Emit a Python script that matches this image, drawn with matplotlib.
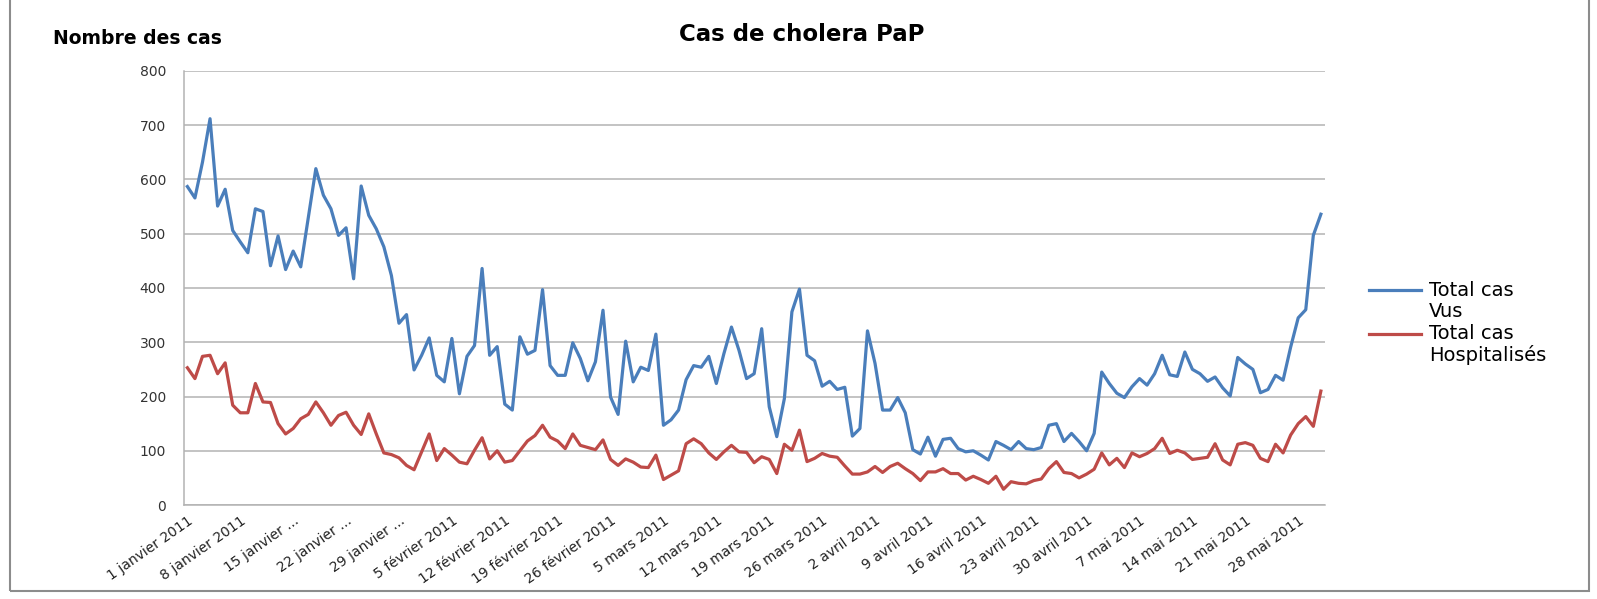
import matplotlib
matplotlib.use("Agg")
import matplotlib.pyplot as plt
from matplotlib.lines import Line2D
from matplotlib.patches import Rectangle
import numpy as np
import pandas as pd

# the source text is wide, DejaVu is the widest family we have
plt.rcParams["font.family"] = ["DejaVu Sans"]

# daily counts, 1 janvier 2011 -> 31 mai 2011
dates = pd.date_range("2011-01-01", "2011-05-31", freq="D")

total_vus = [
    587, 566, 632, 712, 551, 582, 506, 485, 465, 546, 541, 441, 496, 434, 468, 439,
    530, 620, 571, 546, 497, 511, 417, 588, 534, 509, 476, 423, 335, 351, 249, 276,
    308, 239, 227, 307, 205, 274, 294, 436, 276, 292, 186, 175, 310, 278, 285, 397,
    257, 239, 239, 299, 270, 229, 264, 359, 199, 167, 302, 227, 254, 248, 315, 147,
    157, 175, 231, 257, 254, 274, 224, 279, 328, 285, 233, 242, 325, 181, 126, 196,
    356, 398, 276, 266, 219, 228, 213, 217, 127, 141, 321, 261, 175, 175, 198, 170,
    102, 94, 125, 90, 121, 123, 104, 98, 100, 92, 83, 117, 110, 102, 117, 104,
    102, 106, 147, 150, 117, 132, 117, 100, 132, 245, 224, 206, 198, 218, 233, 221,
    242, 276, 240, 237, 282, 250, 242, 228, 236, 216, 201, 272, 260, 250, 207, 213,
    239, 230, 291, 345, 360, 497, 536,
]

total_hosp = [
    253, 233, 274, 276, 242, 262, 184, 170, 170, 224, 190, 189, 150, 131, 141, 159,
    167, 190, 170, 147, 165, 171, 147, 130, 168, 131, 96, 93, 87, 73, 65, 98,
    131, 82, 104, 92, 79, 76, 101, 124, 85, 100, 79, 82, 100, 118, 128, 147,
    125, 118, 104, 131, 110, 106, 102, 120, 84, 73, 85, 79, 70, 69, 92, 47,
    55, 63, 113, 122, 113, 96, 84, 98, 110, 98, 97, 78, 89, 84, 58, 112,
    101, 138, 80, 86, 95, 90, 88, 72, 57, 57, 61, 71, 60, 71, 77, 67,
    58, 45, 61, 61, 67, 58, 58, 46, 53, 47, 40, 53, 29, 43, 40, 39,
    45, 48, 67, 80, 60, 58, 50, 57, 66, 96, 74, 86, 69, 96, 89, 95,
    104, 123, 95, 101, 96, 84, 86, 88, 113, 83, 74, 112, 115, 110, 86, 80,
    112, 96, 129, 150, 163, 145, 210,
]

tick_labels = [
    "1 janvier 2011", "8 janvier 2011", "15 janvier ...", "22 janvier ...",
    "29 janvier ...", "5 février 2011", "12 février 2011", "19 février 2011",
    "26 février 2011", "5 mars 2011", "12 mars 2011", "19 mars 2011",
    "26 mars 2011", "2 avril 2011", "9 avril 2011", "16 avril 2011",
    "23 avril 2011", "30 avril 2011", "7 mai 2011", "14 mai 2011",
    "21 mai 2011", "28 mai 2011",
]

BLUE = "#4a7ebb"
RED = "#be4b48"
GRID = "#b3b3b3"

x = np.arange(len(dates))

fig = plt.figure(figsize=(15.97, 5.99), dpi=100)
ax = fig.add_axes([0.1152, 0.1569, 0.7145, 0.7246])

ax.plot(x, total_vus, color=BLUE, linewidth=2.3, solid_joinstyle="round")
ax.plot(x, total_hosp, color=RED, linewidth=2.3, solid_joinstyle="round")

ax.set_xlim(-0.45, len(x) - 0.45)
ax.set_ylim(0, 800)
ax.set_yticks(range(0, 801, 100))
ax.yaxis.grid(True, color=GRID, linewidth=1.1)
ax.set_axisbelow(True)

for s in ("top", "right"):
    ax.spines[s].set_visible(False)
for s in ("left", "bottom"):
    ax.spines[s].set_color(GRID)
    ax.spines[s].set_linewidth(1.1)

ax.tick_params(axis="y", length=0, pad=13, labelsize=10, labelcolor="#333333")
ax.tick_params(axis="x", length=0, pad=6, labelsize=10, labelcolor="#222222")
ax.set_xticks(x[::7])
# the picture is stretched sideways, so 45 degree labels look flatter
ax.set_xticklabels(tick_labels, rotation=35, ha="right", rotation_mode="anchor")

fig.text(0.502, 0.942, "Cas de cholera PaP", ha="center", va="center",
         fontsize=16.5, fontweight="bold")
fig.text(0.033, 0.936, "Nombre des cas", ha="left", va="center",
         fontsize=13.5, fontweight="bold")

# legend on the right, first text line level with the sample line
for ly, col, lab in [(0.516, BLUE, "Total cas\nVus"), (0.443, RED, "Total cas\nHospitalisés")]:
    fig.add_artist(Line2D([0.857, 0.890], [ly, ly], color=col, linewidth=2.3,
                          transform=fig.transFigure))
    fig.text(0.895, ly - 0.013, lab, ha="left", va="center_baseline", fontsize=14,
             linespacing=1.15)

fig.add_artist(Rectangle((0.006, 0.013), 0.989, 0.99, transform=fig.transFigure,
                         fill=False, edgecolor="#8c8c8c", linewidth=1.5))

fig.savefig("out.png", dpi=100)
